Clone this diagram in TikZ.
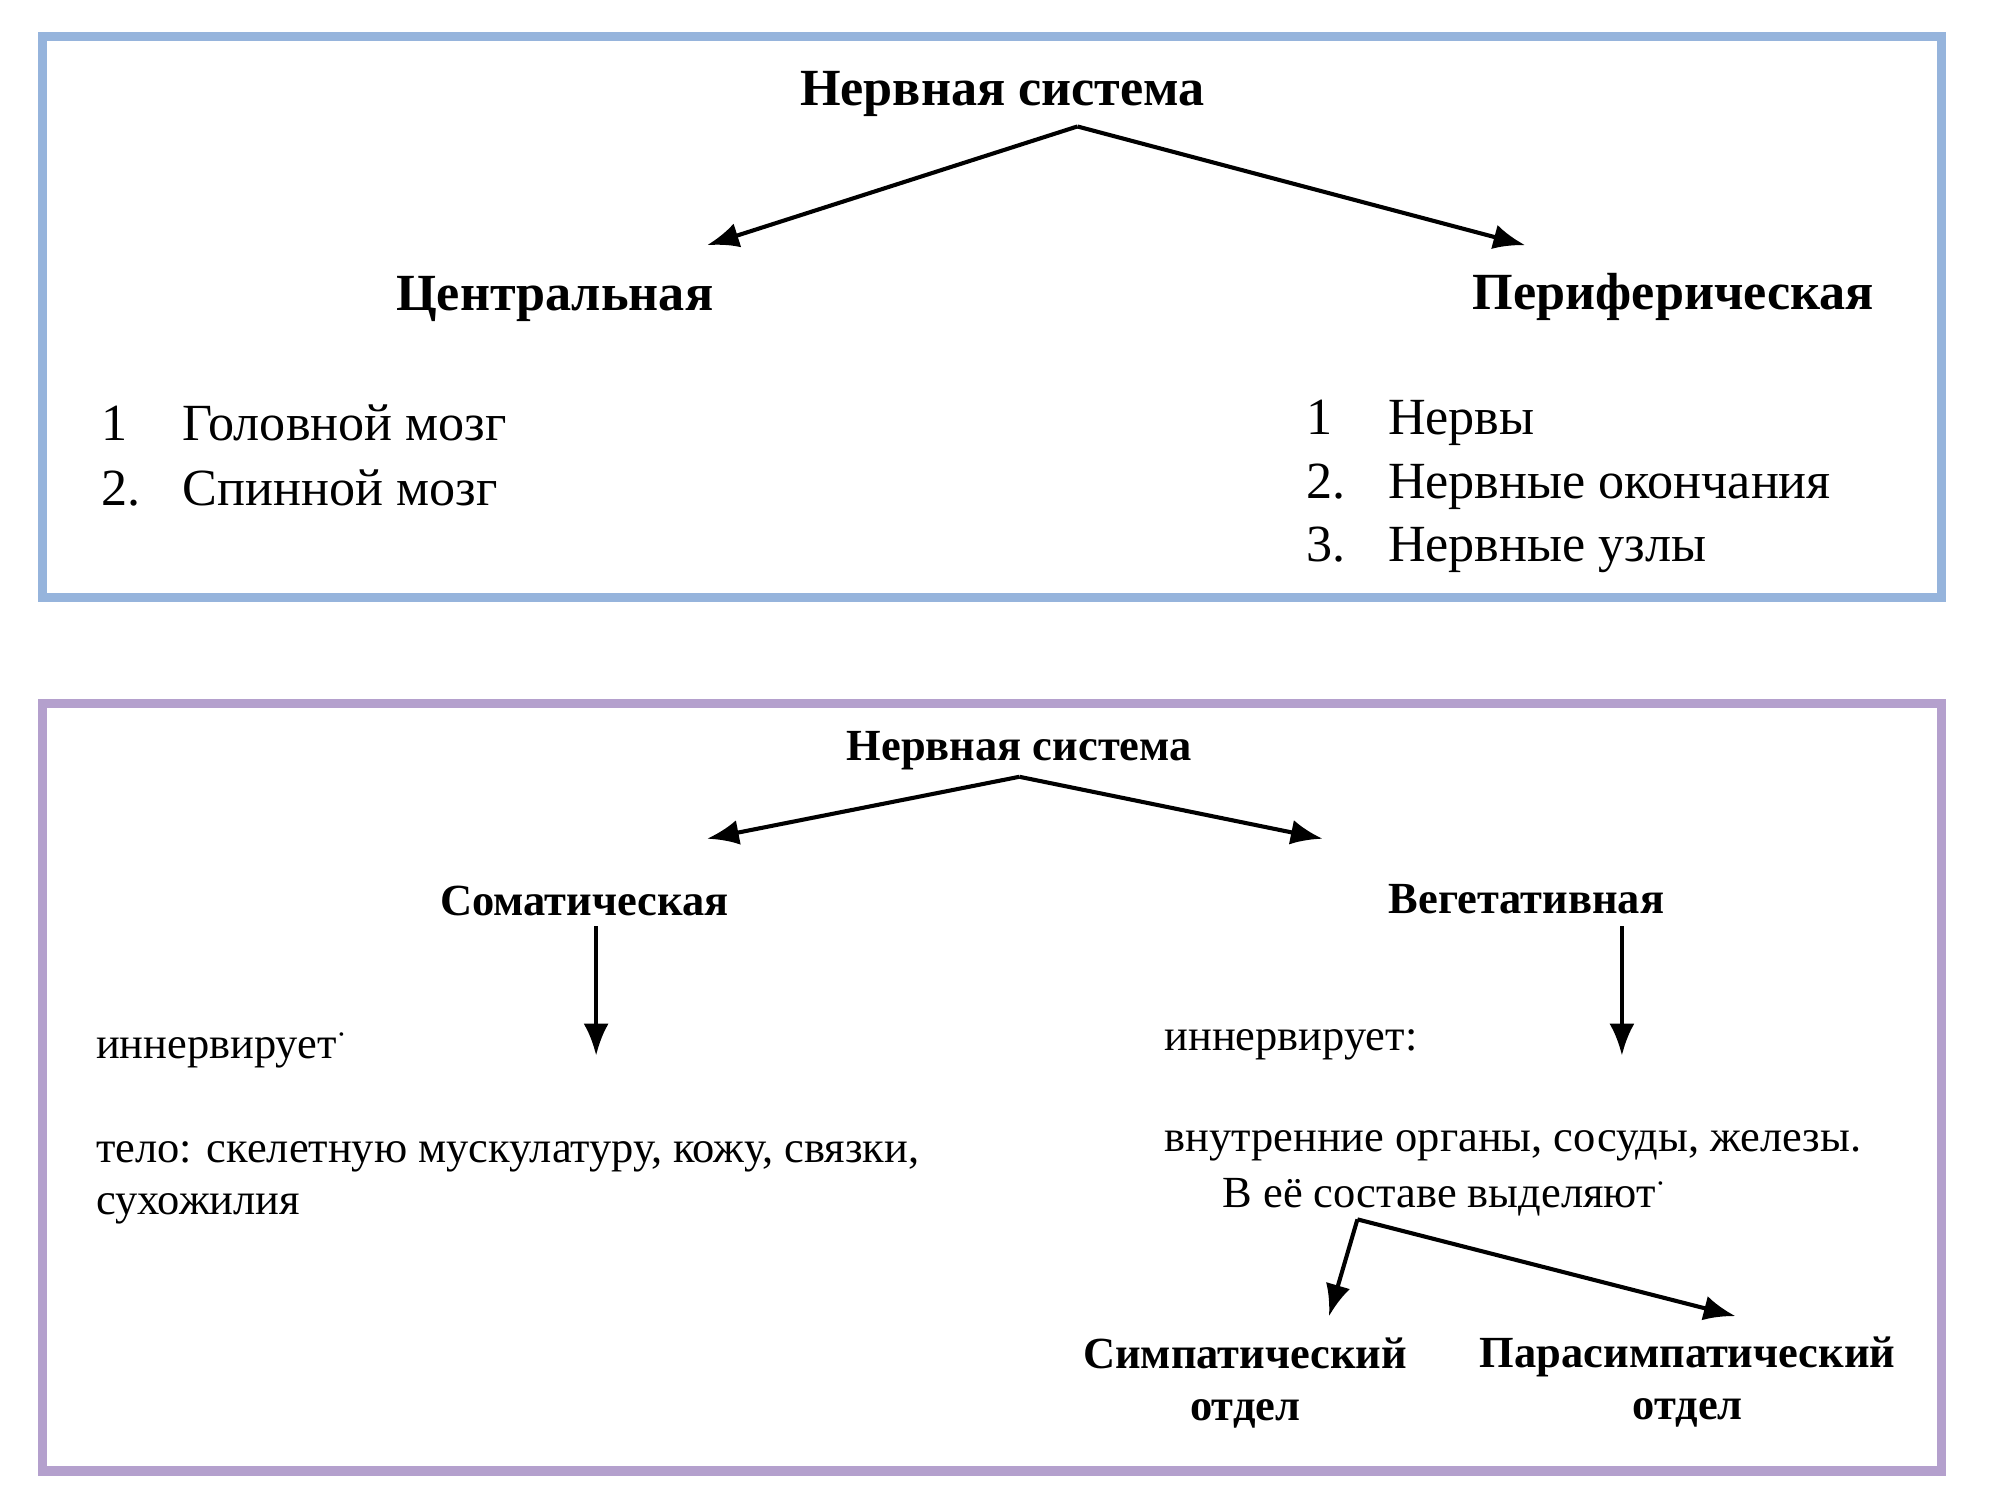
\documentclass[tikz,border=0pt]{standalone}
\usepackage{fontspec}
\setmainfont{Liberation Serif}
\usetikzlibrary{arrows.meta}
\definecolor{topframe}{RGB}{150,180,220}
\definecolor{botframe}{RGB}{180,160,205}
\newcommand{\numbox}[1]{\makebox[0.63cm][l]{#1}}
\begin{document}
\begin{tikzpicture}[x=0.01cm,y=-0.01cm,
    big head/.style={font=\fontsize{11.5}{13}\selectfont\bfseries},
    big item/.style={font=\fontsize{11.5}{13}\selectfont,anchor=west,inner sep=0pt},
    small head/.style={font=\fontsize{9.8}{11.5}\selectfont\bfseries,align=center},
    small text/.style={font=\fontsize{9.8}{11.5}\selectfont,anchor=west},
    arr/.style={-{Latex[length=7pt,width=5.5pt]},line width=0.9pt}
  ]
  \useasboundingbox (0,0) rectangle (1550,1163);
  % frames
  \draw[topframe,line width=2pt] (33,28) rectangle (1505,463);
  \draw[botframe,line width=2pt] (33,545) rectangle (1505,1140);

  % upper scheme
  \node[big head] (ns1) at (777,73) {Нервная система};
  \coordinate (ns1top) at (835,98);
  \coordinate (cenend) at (548,190);
  \coordinate (perend) at (1182,190);
  \node[big head] (cen) at (430,232) {Центральная};
  \node[big head] (per) at (1297,230) {Периферическая};
  \node[big item] (c1) at (78,328) {\numbox{1}Головной мозг};
  \node[big item] (c2) at (78,378) {\numbox{2.}Спинной мозг};
  \node[big item] (p1) at (1012,328) {\numbox{1}Нервы};
  \node[big item] (p2) at (1012,377) {\numbox{2.}Нервные окончания};
  \node[big item] (p3) at (1012,426) {\numbox{3.}Нервные узлы};
  \draw[arr] (ns1top) -- (cenend);
  \draw[arr] (ns1top) -- (perend);

  % lower scheme
  \node[small head] (ns2) at (790,582) {Нервная система};
  \coordinate (ns2top) at (790,602);
  \coordinate (somend) at (548,650);
  \coordinate (vegend) at (1025,650);
  \node[small head] (som) at (453,698) {Соматическая};
  \node[small head] (veg) at (1183,697) {Вегетативная};
  \coordinate (somdown) at (462,818);
  \coordinate (vegdown) at (1257,818);
  \node[small text] (sinn) at (62,812) {иннервирует$^{\cdot}$};
  \node[small text] (vinn) at (890,810) {иннервирует:};
  \node[small text,align=left,anchor=north west] (body) at (62,872) {тело: скелетную мускулатуру, кожу, связки,\\сухожилия};
  \node[small text] (organs) at (890,888) {внутренние органы, сосуды, железы.};
  \node[small text] (parts) at (935,927) {В её составе выделяют$^{\cdot}$};
  \coordinate (split) at (1052,945);
  \node[small head] (sym) at (965,1072) {Симпатический\\отдел};
  \node[small head] (para) at (1308,1071) {Парасимпатический\\отдел};
  \coordinate (symend) at (1030,1020);
  \coordinate (paraend) at (1345,1020);
  \draw[arr] (ns2top) -- (somend);
  \draw[arr] (ns2top) -- (vegend);
  \draw[arr] (462,718) -- (somdown);
  \draw[arr] (1257,718) -- (vegdown);
  \draw[arr] (split) -- (symend);
  \draw[arr] (split) -- (paraend);
\end{tikzpicture}
\end{document}
